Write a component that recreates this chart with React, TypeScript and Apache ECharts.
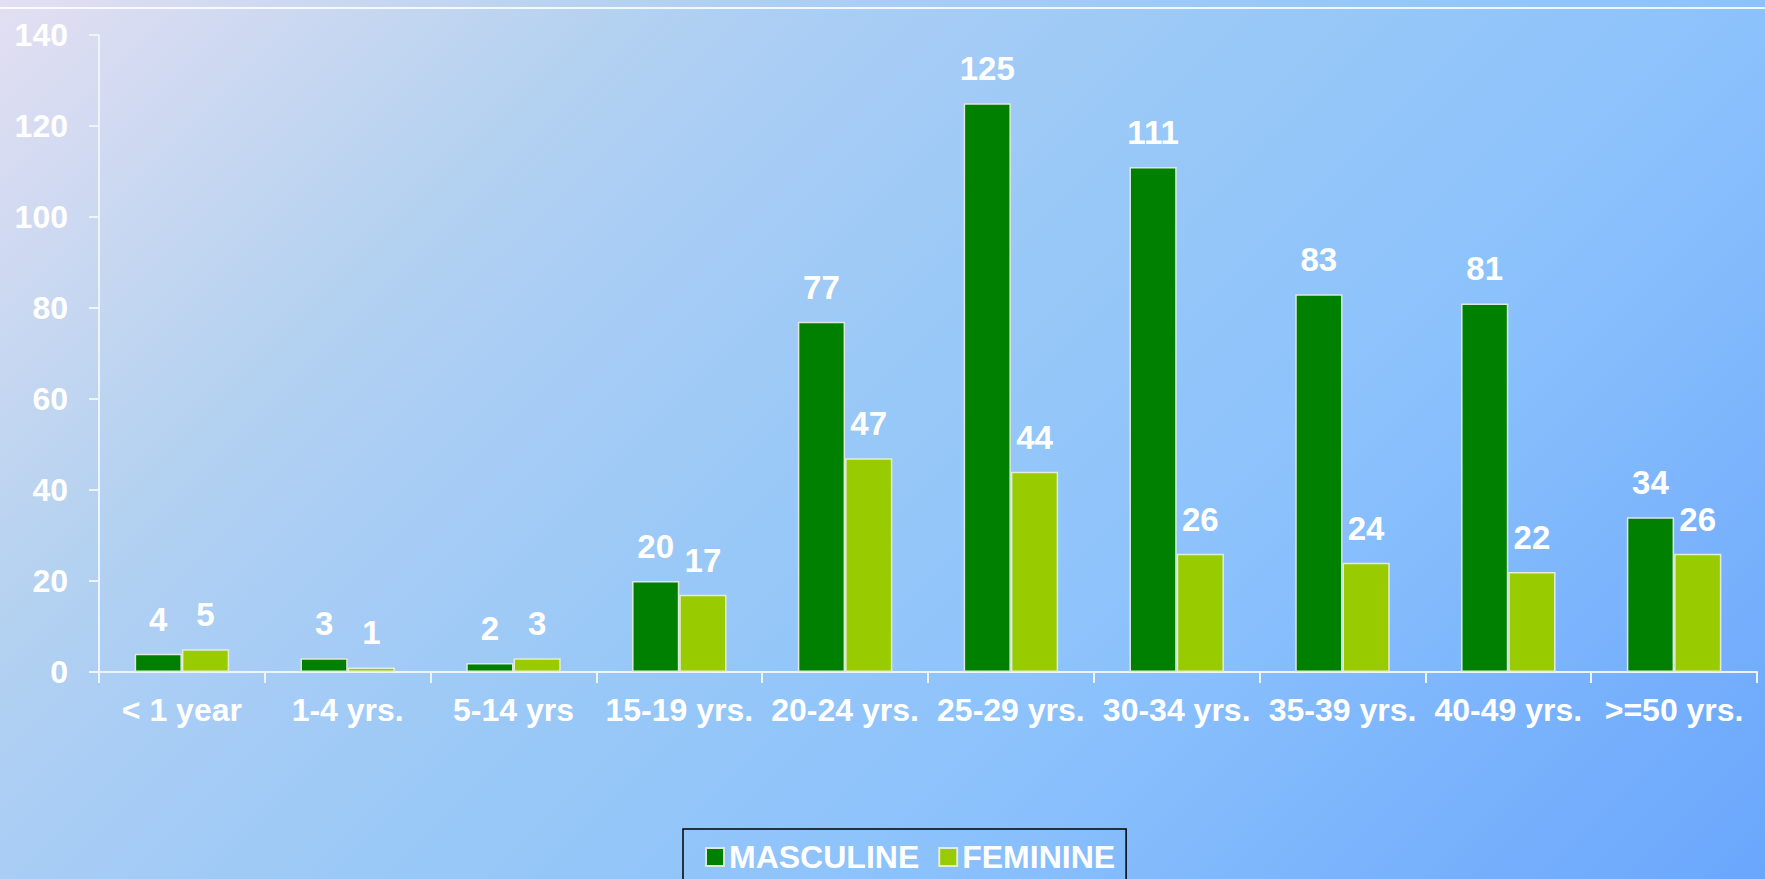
import React, { useEffect, useRef } from "react";
import * as echarts from "echarts";

const categories = ["< 1 year", "1-4 yrs.", "5-14 yrs", "15-19 yrs.", "20-24 yrs.", "25-29 yrs.", "30-34 yrs.", "35-39 yrs.", "40-49 yrs.", ">=50 yrs."];
const masculine = [4, 3, 2, 20, 77, 125, 111, 83, 81, 34];
const feminine = [5, 1, 3, 17, 47, 44, 26, 24, 22, 26];
const seriesNames = ["MASCULINE", "FEMININE"];

const FONT = "'Liberation Sans', Arial, sans-serif";

export default function App() {
  const ref = useRef<HTMLDivElement>(null);
  useEffect(() => {
    if (!ref.current) return;
    const chart = echarts.init(ref.current, undefined, { renderer: "svg" });
    const bg = new echarts.graphic.LinearGradient(0, 0, 1322, 1322, [
      { offset: 0, color: "#e3dff2" },
      { offset: 0.23, color: "#b5d2f0" },
      { offset: 0.33, color: "#a9cdf5" },
      { offset: 0.49, color: "#98c8f7" },
      { offset: 0.67, color: "#8cc2fc" },
      { offset: 1, color: "#6aa6fc" },
    ], true);
    const labelStyle = {
      show: true,
      position: "top" as const,
      distance: 18,
      color: "#ffffff",
      fontWeight: "bold" as const,
      fontSize: 33,
      fontFamily: FONT,
    };
    chart.setOption({
      animation: false,
      backgroundColor: bg,
      graphic: [
        {
          type: "line",
          shape: { x1: 0, y1: 8, x2: 1765, y2: 8 },
          style: { stroke: "#ffffff", lineWidth: 2, opacity: 0.85 },
        },
      ],
      grid: { left: 99, right: 8, top: 35, bottom: 207, containLabel: false },
      legend: {
        left: 683,
        top: 829,
        orient: "horizontal",
        borderColor: "#000000",
        borderWidth: 1.5,
        padding: [12, 11, 40, 22],
        itemWidth: 18,
        itemHeight: 18,
        itemGap: 19,
        icon: "rect",
        textStyle: { color: "#ffffff", fontWeight: "bold", fontSize: 32, fontFamily: FONT },
        data: seriesNames,
      },
      xAxis: {
        type: "category",
        data: categories,
        axisLine: { show: true, lineStyle: { color: "#eef4fb", width: 2 } },
        axisTick: { show: true, length: 11, lineStyle: { color: "#eef4fb", width: 2 } },
        axisLabel: {
          interval: 0,
          color: "#ffffff",
          fontWeight: "bold",
          fontSize: 32,
          fontFamily: FONT,
          margin: 22,
        },
        splitLine: { show: false },
      },
      yAxis: {
        type: "value",
        min: 0,
        max: 140,
        interval: 20,
        axisLine: { show: true, lineStyle: { color: "#eef4fb", width: 2 } },
        axisTick: { show: true, length: 10, lineStyle: { color: "#eef4fb", width: 2 } },
        axisLabel: {
          color: "#ffffff",
          fontWeight: "bold",
          fontSize: 32,
          fontFamily: FONT,
          margin: 31,
        },
        splitLine: { show: false },
      },
      series: [
        {
          name: seriesNames[0],
          type: "bar",
          data: masculine,
          barGap: "0%",
          barCategoryGap: "43%",
          itemStyle: { color: "#008000", borderColor: "#dde8dd", borderWidth: 1.5 },
          label: labelStyle,
        },
        {
          name: seriesNames[1],
          type: "bar",
          data: feminine,
          barGap: "0%",
          barCategoryGap: "43%",
          itemStyle: { color: "#99cc00", borderColor: "#e4ecd8", borderWidth: 1.5 },
          label: labelStyle,
        },
      ],
    });
    return () => chart.dispose();
  }, []);
  return (
    <div
      ref={ref}
      style={{ position: "fixed", left: 0, top: 0, width: 1765, height: 879 }}
    />
  );
}
